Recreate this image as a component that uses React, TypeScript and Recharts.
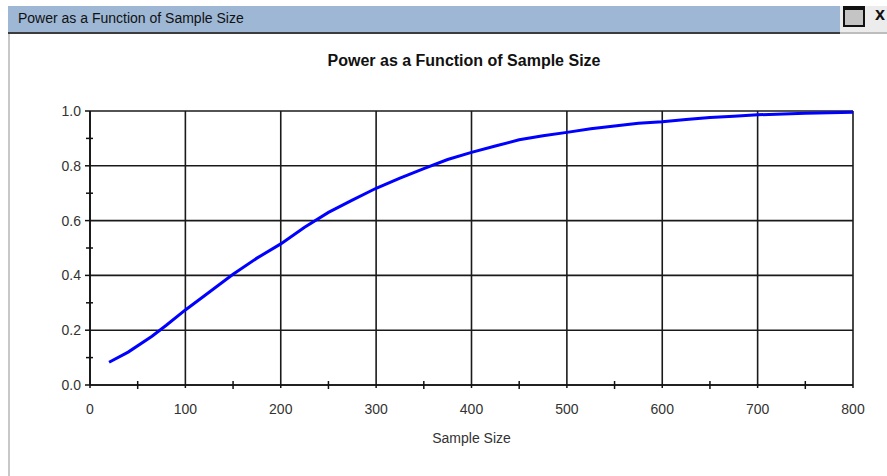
import React from "react";
import { LineChart, Line, XAxis, YAxis, CartesianGrid } from "recharts";

const sampleSizes = [20, 40, 65, 80, 100, 120, 150, 175, 200, 225, 250, 275, 300, 325, 350, 375, 400, 425, 450, 475, 500, 525, 550, 575, 600, 625, 650, 675, 700, 750, 800];
const powerValues = [0.083, 0.12, 0.178, 0.218, 0.274, 0.326, 0.404, 0.463, 0.515, 0.576, 0.63, 0.675, 0.718, 0.755, 0.79, 0.823, 0.849, 0.872, 0.895, 0.91, 0.922, 0.935, 0.945, 0.955, 0.961, 0.969, 0.976, 0.981, 0.986, 0.992, 0.995];

const xTicks = [0, 50, 100, 150, 200, 250, 300, 350, 400, 450, 500, 550, 600, 650, 700, 750, 800];
const xMajor = [0, 100, 200, 300, 400, 500, 600, 700, 800];
const yTicks = [0, 0.1, 0.2, 0.3, 0.4, 0.5, 0.6, 0.7, 0.8, 0.9, 1.0];
const yMajor = [0, 0.2, 0.4, 0.6, 0.8, 1.0];

const chartTitle = "Power as a Function of Sample Size";
const xLabel = "Sample Size";

const data = sampleSizes.map((n, i) => ({ n, power: powerValues[i] }));

const FONT = "'Liberation Sans', Arial, sans-serif";

const isMajorX = (v: number) => xMajor.some((m) => Math.abs(m - v) < 1e-6);
const isMajorY = (v: number) => yMajor.some((m) => Math.abs(m - v) < 1e-6);

const XTick = (props: any) => {
  const { x, y, payload } = props;
  const v = payload.value;
  if (isMajorX(v)) {
    return (
      <g>
        <line x1={x} x2={x} y1={y} y2={y + 3} stroke="#111" strokeWidth={1.5} />
        <text x={x} y={y + 29} textAnchor="middle" fill="#333" fontSize={14} fontFamily={FONT}>
          {v}
        </text>
      </g>
    );
  }
  return <line x1={x} x2={x} y1={y - 4} y2={y + 4} stroke="#111" strokeWidth={1.5} />;
};

const YTick = (props: any) => {
  const { x, y, payload } = props;
  const v = payload.value;
  if (isMajorY(v)) {
    return (
      <g>
        <line x1={x - 5} x2={x} y1={y} y2={y} stroke="#111" strokeWidth={1.5} />
        <text x={x - 9} y={y + 5} textAnchor="end" fill="#333" fontSize={14} fontFamily={FONT}>
          {v.toFixed(1)}
        </text>
      </g>
    );
  }
  return <line x1={x - 4} x2={x + 3} y1={y} y2={y} stroke="#111" strokeWidth={1.5} />;
};

export default function App() {
  return (
    <div style={{ position: "absolute", left: 0, top: 0, width: 887, height: 476, background: "#fff", overflow: "hidden" }}>
      {/* window title bar */}
      <div style={{ position: "absolute", left: 8, top: 6, width: 832, height: 26, background: "#9db7d5", borderBottom: "2px solid #3c3c3c" }} />
      <div style={{ position: "absolute", left: 840, top: 6, width: 47, height: 26, background: "#ececec", borderBottom: "2px solid #bdbdbd" }} />
      <div style={{ position: "absolute", left: 18, top: 10, fontFamily: FONT, fontSize: 14, color: "#111", whiteSpace: "nowrap" }}>{chartTitle}</div>
      <div style={{ position: "absolute", left: 843, top: 6, width: 18, height: 15, background: "#c4c4c4", border: "2px solid #111", borderTopWidth: 4 }} />
      <div style={{ position: "absolute", left: 875, top: 4, fontFamily: FONT, fontWeight: "bold", fontSize: 18, color: "#111" }}>x</div>
      {/* left window border */}
      <div style={{ position: "absolute", left: 8, top: 34, width: 2, height: 442, background: "#c8c8c8" }} />
      {/* chart title */}
      <div style={{ position: "absolute", left: 0, width: 928, top: 52, textAlign: "center", fontFamily: FONT, fontWeight: "bold", fontSize: 16, color: "#111" }}>
        {chartTitle}
      </div>
      <div style={{ position: "absolute", left: 0, top: 0 }}>
        <LineChart width={887} height={476} data={data} margin={{ top: 111, right: 34, bottom: 31, left: 50 }}>
          <CartesianGrid
            stroke="#1a1a1a"
            strokeWidth={1.6}
            verticalValues={xMajor}
            horizontalValues={yMajor}
          />
          <XAxis
            dataKey="n"
            type="number"
            domain={[0, 800]}
            ticks={xTicks}
            interval={0}
            tickLine={false}
            tickSize={0}
            tickMargin={0}
            height={60}
            axisLine={{ stroke: "#111", strokeWidth: 1.6 }}
            tick={<XTick />}
            label={{ value: xLabel, position: "insideBottom", offset: 2, fill: "#333", fontSize: 14, fontFamily: FONT }}
          />
          <YAxis
            type="number"
            domain={[0, 1]}
            ticks={yTicks}
            interval={0}
            width={40}
            tickLine={false}
            tickSize={0}
            tickMargin={0}
            axisLine={{ stroke: "#111", strokeWidth: 1.6 }}
            tick={<YTick />}
          />
          <Line dataKey="power" type="linear" stroke="#0000ff" strokeWidth={3} dot={false} isAnimationActive={false} />
        </LineChart>
      </div>
    </div>
  );
}
